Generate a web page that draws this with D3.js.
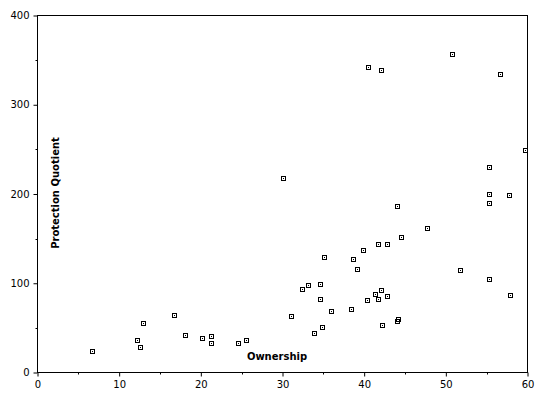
<!DOCTYPE html>
<html>
<head>
<meta charset="utf-8">
<script src="https://cdn.jsdelivr.net/npm/d3@7"></script>
<style>
  body { margin: 0; background: #fff; }
  text { font-family: "DejaVu Sans", sans-serif; }
</style>
</head>
<body>
<div class="canvas"></div>
<script>
// ownership (x) and protection quotient (y)
const ownership = [6.7, 12.2, 12.6, 12.9, 16.7, 18.0, 20.2, 21.3, 21.3, 24.5, 25.5,
    30.0, 31.1, 32.4, 33.1, 33.8, 34.6, 34.6, 34.8, 35.1, 35.9, 38.4, 38.6, 39.1,
    39.8, 40.3, 40.5, 41.3, 41.7, 41.7, 42.0, 42.1, 42.2, 42.8, 42.8, 44.0, 44.0,
    44.1, 44.5, 47.7, 50.7, 51.7, 55.3, 55.3, 55.3, 55.3, 56.6, 57.7, 57.8, 59.7];
const quotient = [24.6, 36.9, 29.1, 56.0, 64.9, 42.5, 38.1, 41.4, 32.5, 33.6, 36.9,
    218.3, 63.8, 94.0, 98.5, 44.8, 99.6, 82.8, 51.5, 129.9, 69.4, 71.6, 127.6, 116.4,
    137.7, 81.7, 342.6, 88.4, 144.4, 82.8, 339.2, 92.9, 53.7, 144.4, 86.2, 186.9, 58.2,
    60.4, 152.2, 162.3, 357.1, 115.3, 230.6, 200.4, 190.3, 105.2, 334.7, 199.3, 87.3, 249.6];
const xTicks = [0, 10, 20, 30, 40, 50, 60];
const yTicks = [0, 100, 200, 300, 400];

const data = ownership.map((o, i) => ({ x: o, y: quotient[i] }));

const width = 539, height = 397;
const svg = d3.select('.canvas')
    .append('svg')
    .attr('width', width)
    .attr('height', height);

const x = d3.scaleLinear().domain([0, 60]).range([37.5, 527.5]);
const y = d3.scaleLinear().domain([0, 400]).range([372.5, 15.5]);

// frame
svg.append('rect')
    .attr('x', x(0)).attr('y', y(400))
    .attr('width', x(60) - x(0)).attr('height', y(0) - y(400))
    .attr('fill', 'none').attr('stroke', '#000').attr('stroke-width', 1);

// minor ticks
svg.append('g')
    .selectAll('line')
    .data(d3.range(5, 60, 10))
    .enter().append('line')
    .attr('x1', d => Math.round(x(d)) + 0.5).attr('x2', d => Math.round(x(d)) + 0.5)
    .attr('y1', y(0)).attr('y2', y(0) + 2)
    .attr('stroke', '#000');
svg.append('g')
    .selectAll('line')
    .data(d3.range(50, 400, 100))
    .enter().append('line')
    .attr('y1', d => Math.round(y(d)) + 0.5).attr('y2', d => Math.round(y(d)) + 0.5)
    .attr('x1', x(0)).attr('x2', x(0) - 2)
    .attr('stroke', '#000');

// axes
const xAxis = svg.append('g')
    .attr('transform', `translate(0, ${y(0)})`)
    .call(d3.axisBottom(x).tickValues(xTicks).tickSize(4).tickPadding(4));
const yAxis = svg.append('g')
    .attr('transform', `translate(${x(0)}, 0)`)
    .call(d3.axisLeft(y).tickValues(yTicks).tickSize(4).tickPadding(4));

[xAxis, yAxis].forEach(g => {
    g.select('.domain').remove();
    g.selectAll('line').attr('stroke', '#000');
    g.selectAll('text')
        .attr('fill', '#000')
        .style('font-size', '10px');
});

// points: small square with a dot in the middle
const pts = svg.append('g')
    .selectAll('g')
    .data(data)
    .enter()
    .append('g')
    .attr('transform', d => `translate(${Math.round(x(d.x)) + 0.5}, ${Math.round(y(d.y)) + 0.5})`);

pts.append('rect')
    .attr('x', -2).attr('y', -2)
    .attr('width', 4).attr('height', 4)
    .attr('fill', 'none')
    .attr('stroke', '#000')
    .attr('stroke-width', 1);

pts.append('rect')
    .attr('x', -0.5).attr('y', -0.5)
    .attr('width', 1).attr('height', 1)
    .attr('fill', '#000');

// axis titles
svg.append('text')
    .attr('x', 277).attr('y', 360)
    .attr('text-anchor', 'middle')
    .style('font-size', '10px')
    .style('font-weight', 'bold')
    .text('Ownership');

svg.append('text')
    .attr('transform', 'translate(59, 193) rotate(-90)')
    .attr('text-anchor', 'middle')
    .style('font-size', '10px')
    .style('font-weight', 'bold')
    .text('Protection Quotient');
</script>
</body>
</html>
